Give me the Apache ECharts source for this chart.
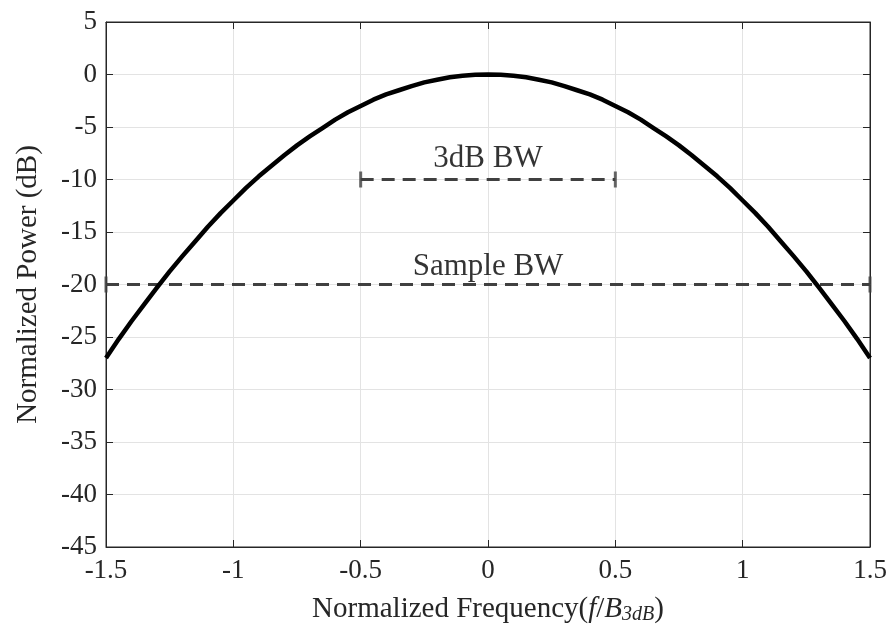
<!DOCTYPE html>
<html><head><meta charset="utf-8">
<script src="https://cdn.jsdelivr.net/npm/echarts@6/dist/echarts.min.js"></script>
<style>html,body{margin:0;padding:0;background:#fff}#c{width:893px;height:633px}</style>
</head><body><div id="c"></div>
<script>
const freq = [-1.5,-1.45,-1.4,-1.35,-1.3,-1.25,-1.2,-1.15,-1.1,-1.05,-1.0,-0.95,-0.9,-0.85,-0.8,-0.75,-0.7,-0.65,-0.6,-0.55,-0.5,-0.45,-0.4,-0.35,-0.3,-0.25,-0.2,-0.15,-0.1,-0.05,0,
  0.05,0.1,0.15,0.2,0.25,0.3,0.35,0.4,0.45,0.5,0.55,0.6,0.65,0.7,0.75,0.8,0.85,0.9,0.95,1.0,1.05,1.1,1.15,1.2,1.25,1.3,1.35,1.4,1.45,1.5];
const power = [-27,-25.2,-23.5,-21.9,-20.3,-18.75,-17.3,-15.9,-14.5,-13.2,-12,-10.8,-9.7,-8.7,-7.7,-6.75,-5.9,-5.1,-4.3,-3.6,-3,-2.4,-1.9,-1.5,-1.1,-0.75,-0.5,-0.27,-0.12,-0.03,0,
  -0.03,-0.12,-0.27,-0.5,-0.75,-1.1,-1.5,-1.9,-2.4,-3,-3.6,-4.3,-5.1,-5.9,-6.75,-7.7,-8.7,-9.7,-10.8,-12,-13.2,-14.5,-15.9,-17.3,-18.75,-20.3,-21.9,-23.5,-25.2,-27];
const bw3dB = [[-0.5,-10],[0.5,-10]];
const sampleBW = [[-1.5,-20],[1.5,-20]];
const labels = [{text:'3dB BW', x:0, y:-8.0},{text:'Sample BW', x:0, y:-18.3}];
const xTicks = {min:-1.5, max:1.5, interval:0.5};
const yTicks = {min:-45, max:5, interval:5};

const FONT = 'Liberation Serif';
const axisCol = '#262626';
const dashCol = '#404040';
const chart = echarts.init(document.getElementById('c'));
const xLabelFmt = v => (Math.abs(v) < 1e-9 ? '0' : String(+v.toFixed(2)));
chart.setOption({
  animation:false,
  grid:{left:106, right:23, top:22, bottom:86, show:true, borderColor:axisCol, borderWidth:1, containLabel:false, outerBoundsMode:'none'},
  xAxis:[{
    type:'value', min:xTicks.min, max:xTicks.max, interval:xTicks.interval,
    axisLine:{show:true, onZero:false, lineStyle:{color:axisCol, width:1}},
    axisTick:{show:true, inside:true, length:7, lineStyle:{color:axisCol}},
    splitLine:{show:true, lineStyle:{color:'#e3e3e3', width:1}},
    axisLabel:{color:axisCol, fontFamily:FONT, fontSize:27, margin:10, formatter:xLabelFmt},
    name:'{n|Normalized Frequency(}{i|f}{n|/}{i|B}{s|3dB}{n|)}',
    nameLocation:'middle', nameGap:46,
    nameTextStyle:{rich:{
      n:{fontFamily:FONT, fontSize:29, color:axisCol},
      i:{fontFamily:FONT, fontSize:29, fontStyle:'italic', color:axisCol},
      s:{fontFamily:FONT, fontSize:20, fontStyle:'italic', color:axisCol, padding:[12,0,0,0]}
    }}
  },{
    type:'value', position:'top', min:xTicks.min, max:xTicks.max, interval:xTicks.interval,
    axisLine:{show:true, onZero:false, lineStyle:{color:axisCol}},
    axisTick:{show:true, inside:true, length:7, lineStyle:{color:axisCol}},
    axisLabel:{show:false}, splitLine:{show:false}
  }],
  yAxis:[{
    type:'value', min:yTicks.min, max:yTicks.max, interval:yTicks.interval,
    axisLine:{show:true, onZero:false, lineStyle:{color:axisCol, width:1}},
    axisTick:{show:true, inside:true, length:7, lineStyle:{color:axisCol}},
    splitLine:{show:true, lineStyle:{color:'#e3e3e3', width:1}},
    axisLabel:{color:axisCol, fontFamily:FONT, fontSize:27, margin:9},
    name:'Normalized Power (dB)', nameLocation:'middle', nameGap:63,
    nameTextStyle:{fontFamily:FONT, fontSize:29, color:axisCol}
  },{
    type:'value', position:'right', min:yTicks.min, max:yTicks.max, interval:yTicks.interval,
    axisLine:{show:true, onZero:false, lineStyle:{color:axisCol}},
    axisTick:{show:true, inside:true, length:7, lineStyle:{color:axisCol}},
    axisLabel:{show:false}, splitLine:{show:false}
  }],
  series:[
    {type:'line', data:sampleBW, showSymbol:false, lineStyle:{color:dashCol, width:3, type:[13,8]}, z:3},
    {type:'line', data:bw3dB, showSymbol:false, lineStyle:{color:dashCol, width:3, type:[13,8]}, z:3},
    {type:'scatter', data:sampleBW.concat(bw3dB), symbol:'rect', symbolSize:[3,16], itemStyle:{color:dashCol}, z:4},
    {type:'line', data:freq.map((f,i)=>[f,power[i]]), smooth:false, showSymbol:false, lineStyle:{color:'#000', width:4.5, join:'round'}, z:5},
    {type:'scatter', data:labels.map(l=>({value:[l.x,l.y], name:l.text})), symbolSize:0,
      label:{show:true, position:'inside', formatter:p=>p.name, fontFamily:FONT, fontSize:31, color:'#000'}, z:6}
  ]
});
</script></body></html>
